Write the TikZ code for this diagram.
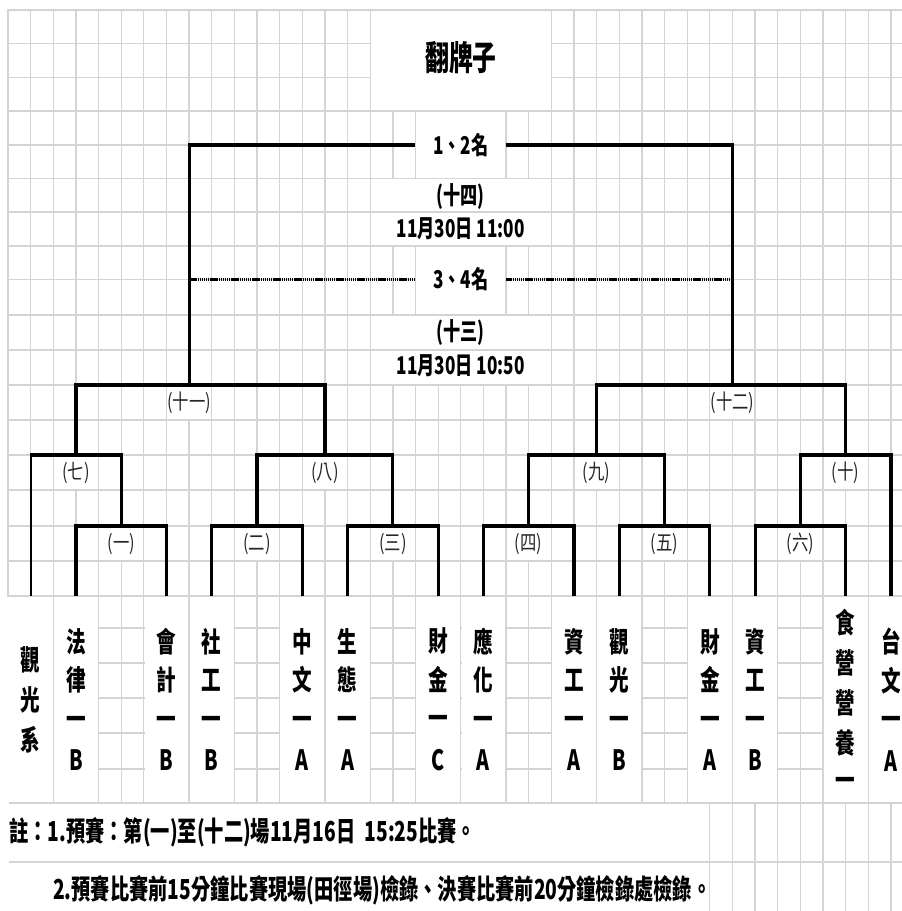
\documentclass[tikz,border=0pt]{standalone}
\usepackage{fontspec}
\usetikzlibrary{calc}
\newfontfamily\cjk{Noto Sans CJK TC}[FakeStretch=0.7]
\newfontfamily\cjklab{Noto Sans CJK TC}[FakeStretch=0.78]
\definecolor{gridc}{RGB}{212,212,212}
\newcommand\mcell[4]{\fill[white] ($(c#1 |- r#3)+(0.7,0.7)$) rectangle ($(c#2 |- r#4)+(-0.7,-0.7)$);}
\begin{document}
\begin{tikzpicture}[x=1pt,y=-1pt,
  gridline/.style={draw=gridc, line width=1.3pt},
  br/.style={draw=black, line width=3.2pt},
  dashl/.style={draw=black, line width=2.2pt, dash pattern=on 1.4pt off 0.7pt},
  team/.style={font=\cjk\bfseries\fontsize{28}{38.5}\selectfont, align=center, inner sep=0pt, minimum width=44pt, minimum height=207pt},
  lab/.style={font=\cjklab\fontsize{21}{21}\selectfont, text=black!85, inner sep=0pt},
  midtxt/.style={font=\cjk\bfseries\fontsize{24.5}{24.5}\selectfont, inner sep=0pt},
  foot/.style={font=\cjk\bfseries\fontsize{27.5}{27.5}\selectfont, inner sep=0pt, anchor=west}]
\useasboundingbox (0,0) rectangle (902,911);
\fill[white] (0,0) rectangle (902,911);
% grid coordinates
\foreach \k in {0,...,40} \coordinate (c\k) at ({8+22.64*\k},0);
\foreach \i/\y in {0/10,1/43.6,2/77.2,3/111,4/145,5/178.5,6/212,7/246,8/279.5,9/315,10/350,11/385,12/420,13/455,14/490,15/526,16/561,17/596,18/628,19/663,20/698,21/733,22/769,23/803,24/862,25/921}
  \coordinate (r\i) at (0,\y);
% grid lines
\foreach \k in {0,...,39} \draw[gridline] ({8+22.64*\k},10) -- ({8+22.64*\k},911);
\foreach \y in {10,43.6,77.2,111,145,178.5,212,246,279.5,315,350,385,420,455,490,526,561,596,628,663,698,733,769,803,862}
  \draw[gridline] (7.35,\y) -- (902,\y);
% merged cells
\mcell{16}{24}{0}{3}
\mcell{18}{22}{3}{5}
\mcell{16}{24}{5}{6}
\mcell{16}{24}{6}{7}
\mcell{18}{22}{7}{9}
\mcell{16}{24}{9}{10}
\mcell{16}{24}{10}{11}
\mcell{7}{9}{11}{12}
\mcell{31}{33}{11}{12}
\mcell{2}{4}{13}{14}
\mcell{13}{15}{13}{14}
\mcell{25}{27}{13}{14}
\mcell{36}{38}{13}{14}
\mcell{4}{6}{15}{16}
\mcell{10}{12}{15}{16}
\mcell{16}{18}{15}{16}
\mcell{22}{24}{15}{16}
\mcell{28}{30}{15}{16}
\mcell{34}{36}{15}{16}
\foreach \a/\b in {0/2,2/4,6/8,8/10,12/14,14/16,18/20,20/22,24/26,26/28,30/32,32/34,36/38,38/40}
  {\mcell{\a}{\b}{17}{23}}
\mcell{0}{31}{23}{24}
\mcell{0}{31}{24}{25}
\fill[white] (0,596.7) rectangle (8.7,911);
% title and centre texts
\node[font=\cjk\bfseries\fontsize{34}{34}\selectfont, inner sep=0pt] (title) at (461,58) {翻牌子};
\node[midtxt, minimum width=90.56pt] (first) at (c20 |- r4) {1、2名};
\node[midtxt] (m14) at (c20 |- 0,196.5) {(十四)};
\node[midtxt] (d14) at (c20 |- 0,229) {11月30日 11:00};
\node[midtxt, minimum width=90.56pt] (third) at (c20 |- r8) {3、4名};
\node[midtxt] (m13) at (c20 |- 0,332.5) {(十三)};
\node[midtxt] (d13) at (c20 |- 0,366) {11月30日 10:50};
% teams
\node[team] (t1) at (c1 |- 0,699.5) {觀\\[1.5pt]光\\[1.5pt]系};
\node[team] (t2) at (c3 |- 0,699.5) {法\\律\\一\\[3pt]B};
\node[team] (t3) at (c7 |- 0,699.5) {會\\計\\一\\[3pt]B};
\node[team] (t4) at (c9 |- 0,699.5) {社\\工\\一\\[3pt]B};
\node[team] (t5) at (c13 |- 0,699.5) {中\\文\\一\\[3pt]A};
\node[team] (t6) at (c15 |- 0,699.5) {生\\態\\一\\[3pt]A};
\node[team] (t7) at (c19 |- 0,699.5) {財\\金\\一\\[3pt]C};
\node[team] (t8) at (c21 |- 0,699.5) {應\\化\\一\\[3pt]A};
\node[team] (t9) at (c25 |- 0,699.5) {資\\工\\一\\[3pt]A};
\node[team] (t10) at (c27 |- 0,699.5) {觀\\光\\一\\[3pt]B};
\node[team] (t11) at (c31 |- 0,699.5) {財\\金\\一\\[3pt]A};
\node[team] (t12) at (c33 |- 0,699.5) {資\\工\\一\\[3pt]B};
\node[team] (t13) at (c37 |- 0,699.5) {食\\[1.5pt]營\\[1.5pt]營\\[1.5pt]養\\[-1.5pt]一};
\node[team] (t14) at (c39 |- 0,699.5) {台\\文\\一\\[3pt]A};
% match points
\coordinate (m1) at (c5 |- r15);
\coordinate (m2) at (c11 |- r15);
\coordinate (m3) at (c17 |- r15);
\coordinate (m4) at (c23 |- r15);
\coordinate (m5) at (c29 |- r15);
\coordinate (m6) at (c35 |- r15);
\coordinate (m7) at (c3 |- r13);
\coordinate (m8) at (c14 |- r13);
\coordinate (m9) at (c26 |- r13);
\coordinate (m10) at (c37 |- r13);
\coordinate (m11) at (c8 |- r11);
\coordinate (m12) at (c32 |- r11);
% match labels
\node[lab] (g1) at (c5 |- 0,543.5) {(一)};
\node[lab] (g2) at (c11 |- 0,543.5) {(二)};
\node[lab] (g3) at (c17 |- 0,543.5) {(三)};
\node[lab] (g4) at (c23 |- 0,543.5) {(四)};
\node[lab] (g5) at (c29 |- 0,543.5) {(五)};
\node[lab] (g6) at (c35 |- 0,543.5) {(六)};
\node[lab] (g7) at (c3 |- 0,472.5) {(七)};
\node[lab] (g8) at (c14 |- 0,472.5) {(八)};
\node[lab] (g9) at (c26 |- 0,472.5) {(九)};
\node[lab] (g10) at (c37 |- 0,472.5) {(十)};
\node[lab] (g11) at (c8 |- 0,402.5) {(十一)};
\node[lab] (g12) at (c32 |- 0,402.5) {(十二)};
% bracket
\draw[br] (t2.north) |- (m1) -| (t3.north);
\draw[br] (t4.north) |- (m2) -| (t5.north);
\draw[br] (t6.north) |- (m3) -| (t7.north);
\draw[br] (t8.north) |- (m4) -| (t9.north);
\draw[br] (t10.north) |- (m5) -| (t11.north);
\draw[br] (t12.north) |- (m6) -| (t13.north);
\draw[br, line width=2pt] (t1.north) -- ($(t1.north |- m7)+(0,-1.6)$);
\draw[br] (t1.north |- m7) -- (m7) -| (m1);
\draw[br] (m2) |- (m8) -| (m3);
\draw[br] (m4) |- (m9) -| (m5);
\draw[br] (m6) |- (m10) -| (t14.north);
\draw[br] (m7) |- (m11) -| (m8);
\draw[br] (m9) |- (m12) -| (m10);
\draw[br] (m11) |- (first.west);
\draw[br] (m12) |- (first.east);
\draw[dashl] (third.west -| m11) -- (third.west);
\draw[dashl] (third.east) -- (third.east -| m12);
% notes
\node[foot] (n1) at (9,832) {註：1.預賽：第(一)至(十二)場11月16日\hspace{9pt}15:25比賽。};
\node[foot] (n2) at (53,890) {2.預賽比賽前15分鐘比賽現場(田徑場)檢錄、決賽比賽前20分鐘檢錄處檢錄。};
\end{tikzpicture}
\end{document}
